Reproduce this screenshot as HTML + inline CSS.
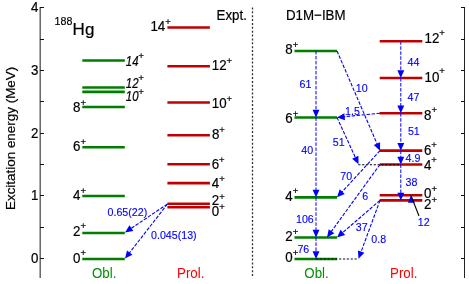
<!DOCTYPE html>
<html><head><meta charset="utf-8"><title>188Hg level scheme</title>
<style>
html,body{margin:0;padding:0;background:#fff;}
svg{display:block;}
text{font-family:"Liberation Sans",sans-serif;fill:#000;stroke:#000;stroke-width:0.18px;}
svg{will-change:transform;}
.m{font-size:13.33px;}
.hg{font-size:17px;stroke-width:0.2px;}
.i{font-style:italic;}
.mi{font-size:11.4px;font-style:italic;}
.s{font-size:9.5px;stroke-width:0.2px;}
.s2{font-size:10.67px;}
.b{font-size:10.67px;fill:#0000ff;stroke:#0000ff;stroke-width:0.12px;}
</style></head><body>
<svg width="469" height="284" viewBox="0 0 469 284">
<rect width="469" height="284" fill="#fff"/>
<path d="M40.15 7V278" fill="none" stroke="#222" stroke-width="1.05"/>
<path d="M464.5 7V278" fill="none" stroke="#222" stroke-width="1"/>
<line x1="40" y1="258.5" x2="44" y2="258.5" stroke="#111"/>
<line x1="461" y1="258.5" x2="465" y2="258.5" stroke="#111"/>
<text transform="translate(38.5,262.6) scale(1,1.12)" class="m" text-anchor="end">0</text>
<line x1="40" y1="227.5" x2="44" y2="227.5" stroke="#111"/>
<line x1="461" y1="227.5" x2="465" y2="227.5" stroke="#111"/>
<line x1="40" y1="195.5" x2="44" y2="195.5" stroke="#111"/>
<line x1="461" y1="195.5" x2="465" y2="195.5" stroke="#111"/>
<text transform="translate(38.5,199.6) scale(1,1.12)" class="m" text-anchor="end">1</text>
<line x1="40" y1="164.5" x2="44" y2="164.5" stroke="#111"/>
<line x1="461" y1="164.5" x2="465" y2="164.5" stroke="#111"/>
<line x1="40" y1="133.5" x2="44" y2="133.5" stroke="#111"/>
<line x1="461" y1="133.5" x2="465" y2="133.5" stroke="#111"/>
<text transform="translate(38.5,137.6) scale(1,1.12)" class="m" text-anchor="end">2</text>
<line x1="40" y1="101.5" x2="44" y2="101.5" stroke="#111"/>
<line x1="461" y1="101.5" x2="465" y2="101.5" stroke="#111"/>
<line x1="40" y1="70.5" x2="44" y2="70.5" stroke="#111"/>
<line x1="461" y1="70.5" x2="465" y2="70.5" stroke="#111"/>
<text transform="translate(38.5,74.6) scale(1,1.12)" class="m" text-anchor="end">3</text>
<line x1="40" y1="39.5" x2="44" y2="39.5" stroke="#111"/>
<line x1="461" y1="39.5" x2="465" y2="39.5" stroke="#111"/>
<line x1="40" y1="7.5" x2="44" y2="7.5" stroke="#111"/>
<line x1="461" y1="7.5" x2="465" y2="7.5" stroke="#111"/>
<text transform="translate(38.5,11.6) scale(1,1.12)" class="m" text-anchor="end">4</text>
<text transform="translate(14.8,138.4) rotate(-90) scale(1.008,1.0)" text-anchor="middle" class="m">Excitation energy (MeV)</text>
<line x1="252.5" y1="7.5" x2="252.5" y2="276.6" stroke="#333" stroke-width="1.3" stroke-dasharray="2.0 1.863"/>
<line x1="82.3" y1="60.5" x2="124.8" y2="60.5" stroke="#007e00" stroke-width="2.6"/>
<line x1="82.3" y1="87.55" x2="124.8" y2="87.55" stroke="#007e00" stroke-width="2.6"/>
<line x1="82.3" y1="91.9" x2="124.8" y2="91.9" stroke="#007e00" stroke-width="2.6"/>
<line x1="82.3" y1="107.05" x2="124.8" y2="107.05" stroke="#007e00" stroke-width="2.6"/>
<line x1="82.3" y1="147.25" x2="124.8" y2="147.25" stroke="#007e00" stroke-width="2.6"/>
<line x1="82.3" y1="195.95" x2="124.8" y2="195.95" stroke="#007e00" stroke-width="2.6"/>
<line x1="82.3" y1="232.95" x2="124.8" y2="232.95" stroke="#007e00" stroke-width="2.6"/>
<line x1="82.3" y1="259.05" x2="124.8" y2="259.05" stroke="#007e00" stroke-width="2.6"/>
<line x1="167.4" y1="27.5" x2="209.9" y2="27.5" stroke="#c00000" stroke-width="2.6"/>
<line x1="167.4" y1="66.25" x2="209.9" y2="66.25" stroke="#c00000" stroke-width="2.6"/>
<line x1="167.4" y1="102.45" x2="209.9" y2="102.45" stroke="#c00000" stroke-width="2.6"/>
<line x1="167.4" y1="135.25" x2="209.9" y2="135.25" stroke="#c00000" stroke-width="2.6"/>
<line x1="167.4" y1="164.2" x2="209.9" y2="164.2" stroke="#c00000" stroke-width="2.6"/>
<line x1="167.4" y1="183.15" x2="209.9" y2="183.15" stroke="#c00000" stroke-width="2.6"/>
<line x1="167.4" y1="203.7" x2="209.9" y2="203.7" stroke="#c00000" stroke-width="2.6"/>
<line x1="167.4" y1="207.25" x2="209.9" y2="207.25" stroke="#c00000" stroke-width="2.6"/>
<line x1="294.5" y1="50.95" x2="337.0" y2="50.95" stroke="#007e00" stroke-width="2.6"/>
<line x1="294.5" y1="117.45" x2="337.0" y2="117.45" stroke="#007e00" stroke-width="2.6"/>
<line x1="294.5" y1="197.35" x2="337.0" y2="197.35" stroke="#007e00" stroke-width="2.6"/>
<line x1="294.5" y1="237.45" x2="337.0" y2="237.45" stroke="#007e00" stroke-width="2.6"/>
<line x1="294.5" y1="259.05" x2="337.0" y2="259.05" stroke="#007e00" stroke-width="2.6"/>
<line x1="379.7" y1="41.3" x2="422.3" y2="41.3" stroke="#c00000" stroke-width="2.6"/>
<line x1="379.7" y1="78.0" x2="422.3" y2="78.0" stroke="#c00000" stroke-width="2.6"/>
<line x1="379.7" y1="113.2" x2="422.3" y2="113.2" stroke="#c00000" stroke-width="2.6"/>
<line x1="379.7" y1="150.65" x2="422.3" y2="150.65" stroke="#c00000" stroke-width="2.6"/>
<line x1="379.7" y1="164.45" x2="422.3" y2="164.45" stroke="#c00000" stroke-width="2.6"/>
<line x1="379.7" y1="195.3" x2="422.3" y2="195.3" stroke="#c00000" stroke-width="2.6"/>
<line x1="379.7" y1="200.4" x2="422.3" y2="200.4" stroke="#c00000" stroke-width="2.6"/>
<line x1="358.3" y1="164.7" x2="401" y2="164.7" stroke="#000" stroke-width="1.1" stroke-dasharray="2.2 1.65"/>
<line x1="316" y1="259.0" x2="358.5" y2="259.0" stroke="#111" stroke-width="1.1" stroke-dasharray="2.2 1.65"/>
<line x1="167.50" y1="204.00" x2="130.76" y2="228.64" stroke="#0000ff" stroke-width="1.1" stroke-dasharray="3.5 1.5"/>
<path d="M125.00 232.50L129.47 225.35L133.32 231.08Z" fill="#0000ff"/>
<line x1="167.50" y1="204.00" x2="129.26" y2="253.13" stroke="#0000ff" stroke-width="1.1" stroke-dasharray="3.5 1.5"/>
<path d="M125.00 258.60L127.01 250.40L132.45 254.64Z" fill="#0000ff"/>
<line x1="316.00" y1="50.95" x2="316.00" y2="110.52" stroke="#0000ff" stroke-width="1.0" stroke-dasharray="3.5 1.5"/>
<path d="M316.00 117.45L312.55 109.75L319.45 109.75Z" fill="#0000ff"/>
<line x1="316.00" y1="117.45" x2="316.00" y2="190.42" stroke="#0000ff" stroke-width="1.0" stroke-dasharray="3.5 1.5"/>
<path d="M316.00 197.35L312.55 189.65L319.45 189.65Z" fill="#0000ff"/>
<line x1="316.00" y1="197.35" x2="316.00" y2="230.52" stroke="#0000ff" stroke-width="1.0" stroke-dasharray="3.5 1.5"/>
<path d="M316.00 237.45L312.55 229.75L319.45 229.75Z" fill="#0000ff"/>
<line x1="316.00" y1="237.45" x2="316.00" y2="252.12" stroke="#0000ff" stroke-width="1.0" stroke-dasharray="3.5 1.5"/>
<path d="M316.00 259.05L312.55 251.35L319.45 251.35Z" fill="#0000ff"/>
<line x1="400.80" y1="41.30" x2="400.80" y2="71.07" stroke="#0000ff" stroke-width="1.0" stroke-dasharray="3.5 1.5"/>
<path d="M400.80 78.00L397.35 70.30L404.25 70.30Z" fill="#0000ff"/>
<line x1="400.80" y1="78.00" x2="400.80" y2="106.27" stroke="#0000ff" stroke-width="1.0" stroke-dasharray="3.5 1.5"/>
<path d="M400.80 113.20L397.35 105.50L404.25 105.50Z" fill="#0000ff"/>
<line x1="400.80" y1="113.20" x2="400.80" y2="143.72" stroke="#0000ff" stroke-width="1.0" stroke-dasharray="3.5 1.5"/>
<path d="M400.80 150.65L397.35 142.95L404.25 142.95Z" fill="#0000ff"/>
<line x1="400.80" y1="150.65" x2="400.80" y2="157.52" stroke="#0000ff" stroke-width="1.0" stroke-dasharray="3.5 1.5"/>
<path d="M400.80 164.45L397.35 156.75L404.25 156.75Z" fill="#0000ff"/>
<line x1="400.80" y1="164.45" x2="400.80" y2="193.47" stroke="#0000ff" stroke-width="1.0" stroke-dasharray="3.5 1.5"/>
<path d="M400.80 200.40L397.35 192.70L404.25 192.70Z" fill="#0000ff"/>
<line x1="337.00" y1="50.95" x2="377.26" y2="144.29" stroke="#0000ff" stroke-width="1.1" stroke-dasharray="3.5 1.5"/>
<path d="M380.00 150.65L373.78 144.95L380.12 142.21Z" fill="#0000ff"/>
<line x1="380.00" y1="113.20" x2="343.90" y2="116.77" stroke="#0000ff" stroke-width="1.1" stroke-dasharray="3.5 1.5"/>
<path d="M337.00 117.45L344.32 113.26L345.00 120.13Z" fill="#0000ff"/>
<line x1="337.00" y1="117.45" x2="355.61" y2="158.00" stroke="#0000ff" stroke-width="1.1" stroke-dasharray="3.5 1.5"/>
<path d="M358.50 164.30L352.15 158.74L358.42 155.86Z" fill="#0000ff"/>
<line x1="380.00" y1="150.65" x2="341.69" y2="192.25" stroke="#0000ff" stroke-width="1.1" stroke-dasharray="3.5 1.5"/>
<path d="M337.00 197.35L339.68 189.35L344.75 194.02Z" fill="#0000ff"/>
<line x1="380.00" y1="164.45" x2="331.07" y2="231.84" stroke="#0000ff" stroke-width="1.1" stroke-dasharray="3.5 1.5"/>
<path d="M327.00 237.45L328.73 229.19L334.32 233.25Z" fill="#0000ff"/>
<line x1="380.00" y1="200.40" x2="342.25" y2="232.93" stroke="#0000ff" stroke-width="1.1" stroke-dasharray="3.5 1.5"/>
<path d="M337.00 237.45L340.58 229.81L345.09 235.04Z" fill="#0000ff"/>
<line x1="380.00" y1="200.40" x2="360.89" y2="252.30" stroke="#0000ff" stroke-width="1.1" stroke-dasharray="3.5 1.5"/>
<path d="M358.50 258.80L357.92 250.38L364.40 252.77Z" fill="#0000ff"/>
<path d="M411 195.2L407.9 202.8L414.8 202.8Z" fill="#0000ff"/>
<line x1="411.0" y1="195.6" x2="419" y2="216" stroke="#000" stroke-width="1.1"/>
<text transform="translate(125.8,65.6) scale(1,1.22)" class="mi">14</text>
<text transform="translate(138.3,59.3) scale(1,1.002)" class="s i">+</text>
<text transform="translate(125.8,87.7) scale(1,1.22)" class="mi">12</text>
<text transform="translate(138.3,81.4) scale(1,1.002)" class="s i">+</text>
<text transform="translate(125.8,101.3) scale(1,1.22)" class="mi">10</text>
<text transform="translate(138.3,95.0) scale(1,1.002)" class="s i">+</text>
<text transform="translate(73.0,112.0) scale(1,1.12)" class="m">8</text>
<text transform="translate(80.41,106.20) scale(1,1.002)" class="s">+</text>
<text transform="translate(73.0,151.0) scale(1,1.12)" class="m">6</text>
<text transform="translate(80.41,144.50) scale(1,1.002)" class="s">+</text>
<text transform="translate(73.0,200.2) scale(1,1.12)" class="m">4</text>
<text transform="translate(80.41,194.40) scale(1,1.002)" class="s">+</text>
<text transform="translate(73.0,235.7) scale(1,1.12)" class="m">2</text>
<text transform="translate(80.41,229.30) scale(1,1.002)" class="s">+</text>
<text transform="translate(73.0,262.8) scale(1,1.12)" class="m">0</text>
<text transform="translate(80.41,255.95) scale(1,1.002)" class="s">+</text>
<text transform="translate(150.4,30.5) scale(1,1.12)" class="m">14</text>
<text transform="translate(165.22,24.70) scale(1,1.002)" class="s">+</text>
<text transform="translate(211.8,69.55) scale(1,1.12)" class="m">12</text>
<text transform="translate(226.62,63.75) scale(1,1.002)" class="s">+</text>
<text transform="translate(211.8,107.9) scale(1,1.12)" class="m">10</text>
<text transform="translate(226.62,101.65) scale(1,1.002)" class="s">+</text>
<text transform="translate(211.9,138.65) scale(1,1.12)" class="m">8</text>
<text transform="translate(219.31,132.60) scale(1,1.002)" class="s">+</text>
<text transform="translate(211.7,169.25) scale(1,1.12)" class="m">6</text>
<text transform="translate(219.11,162.80) scale(1,1.002)" class="s">+</text>
<text transform="translate(211.8,187.7) scale(1,1.12)" class="m">4</text>
<text transform="translate(219.21,181.90) scale(1,1.002)" class="s">+</text>
<text transform="translate(211.8,205.4) scale(1,1.12)" class="m">2</text>
<text transform="translate(219.21,199.60) scale(1,1.002)" class="s">+</text>
<text transform="translate(211.8,216.1) scale(1,1.12)" class="m">0</text>
<text transform="translate(219.21,209.55) scale(1,1.002)" class="s">+</text>
<text transform="translate(285.3,53.8) scale(1,1.12)" class="m">8</text>
<text transform="translate(292.71,48.00) scale(1,1.002)" class="s">+</text>
<text transform="translate(285.3,122.8) scale(1,1.12)" class="m">6</text>
<text transform="translate(292.71,117.00) scale(1,1.002)" class="s">+</text>
<text transform="translate(285.3,200.6) scale(1,1.12)" class="m">4</text>
<text transform="translate(292.71,194.20) scale(1,1.002)" class="s">+</text>
<text transform="translate(285.3,241.2) scale(1,1.12)" class="m">2</text>
<text transform="translate(292.71,235.40) scale(1,1.002)" class="s">+</text>
<text transform="translate(285.3,262.0) scale(1,1.12)" class="m">0</text>
<text transform="translate(292.71,256.20) scale(1,1.002)" class="s">+</text>
<text transform="translate(424.5,42.8) scale(1,1.12)" class="m">12</text>
<text transform="translate(439.32,35.95) scale(1,1.002)" class="s">+</text>
<text transform="translate(424.5,81.8) scale(1,1.12)" class="m">10</text>
<text transform="translate(439.32,74.30) scale(1,1.002)" class="s">+</text>
<text transform="translate(424.0,119.8) scale(1,1.12)" class="m">8</text>
<text transform="translate(431.41,113.40) scale(1,1.002)" class="s">+</text>
<text transform="translate(423.9,154.8) scale(1,1.12)" class="m">6</text>
<text transform="translate(431.31,147.90) scale(1,1.002)" class="s">+</text>
<text transform="translate(423.9,170.0) scale(1,1.12)" class="m">4</text>
<text transform="translate(431.31,162.95) scale(1,1.002)" class="s">+</text>
<text transform="translate(424.0,197.8) scale(1,1.12)" class="m">0</text>
<text transform="translate(431.41,192.00) scale(1,1.002)" class="s">+</text>
<text transform="translate(424.0,209.0) scale(1,1.12)" class="m">2</text>
<text transform="translate(431.41,203.20) scale(1,1.002)" class="s">+</text>
<text transform="translate(54.6,25.4) scale(1,1.0)" class="s2" text-anchor="start">188</text>
<text transform="translate(72.6,34.5) scale(1,1.0)" class="hg" text-anchor="start">Hg</text>
<text transform="translate(216.5,19.5) scale(1,1.12)" class="m" text-anchor="start">Expt.</text>
<text transform="translate(286,19.5) scale(1,1.12)" class="m" text-anchor="start">D1M−IBM</text>
<text transform="translate(92,278.0) scale(1,1.12)" class="m" style="fill:#009000;stroke:none" text-anchor="start">Obl.</text>
<text transform="translate(177,278.0) scale(1,1.12)" class="m" style="fill:#ff0000;stroke:none" text-anchor="start">Prol.</text>
<text transform="translate(304.3,278.0) scale(1,1.12)" class="m" style="fill:#009000;stroke:none" text-anchor="start">Obl.</text>
<text transform="translate(390,278.0) scale(1,1.12)" class="m" style="fill:#ff0000;stroke:none" text-anchor="start">Prol.</text>
<text transform="translate(107.5,216.39999999999998) scale(1,1.08)" class="b" text-anchor="start">0.65(22)</text>
<text transform="translate(151,239.39999999999998) scale(1,1.08)" class="b" text-anchor="start">0.045(13)</text>
<text transform="translate(299.5,88.2) scale(1,1.08)" class="b" text-anchor="start">61</text>
<text transform="translate(301.2,153.5) scale(1,1.08)" class="b" text-anchor="start">40</text>
<text transform="translate(296,222.5) scale(1,1.08)" class="b" text-anchor="start">106</text>
<text transform="translate(297.4,253.2) scale(1,1.08)" class="b" text-anchor="start">76</text>
<text transform="translate(407.6,66.0) scale(1,1.08)" class="b" text-anchor="start">44</text>
<text transform="translate(407.6,101.2) scale(1,1.08)" class="b" text-anchor="start">47</text>
<text transform="translate(407.9,134.89999999999998) scale(1,1.08)" class="b" text-anchor="start">51</text>
<text transform="translate(405.5,161.7) scale(1,1.08)" class="b" text-anchor="start">4.9</text>
<text transform="translate(405.5,186.0) scale(1,1.08)" class="b" text-anchor="start">38</text>
<text transform="translate(355.8,91.5) scale(1,1.08)" class="b" text-anchor="start">10</text>
<text transform="translate(345,115.2) scale(1,1.08)" class="b" text-anchor="start">1.5</text>
<text transform="translate(332.8,145.5) scale(1,1.08)" class="b" text-anchor="start">51</text>
<text transform="translate(340.3,180.2) scale(1,1.08)" class="b" text-anchor="start">70</text>
<text transform="translate(362.2,199.89999999999998) scale(1,1.08)" class="b" text-anchor="start">6</text>
<text transform="translate(355.8,230.7) scale(1,1.08)" class="b" text-anchor="start">37</text>
<text transform="translate(371.3,242.7) scale(1,1.08)" class="b" text-anchor="start">0.8</text>
<text transform="translate(417.8,226.29999999999998) scale(1,1.08)" class="b" text-anchor="start">12</text>
</svg>
</body></html>
